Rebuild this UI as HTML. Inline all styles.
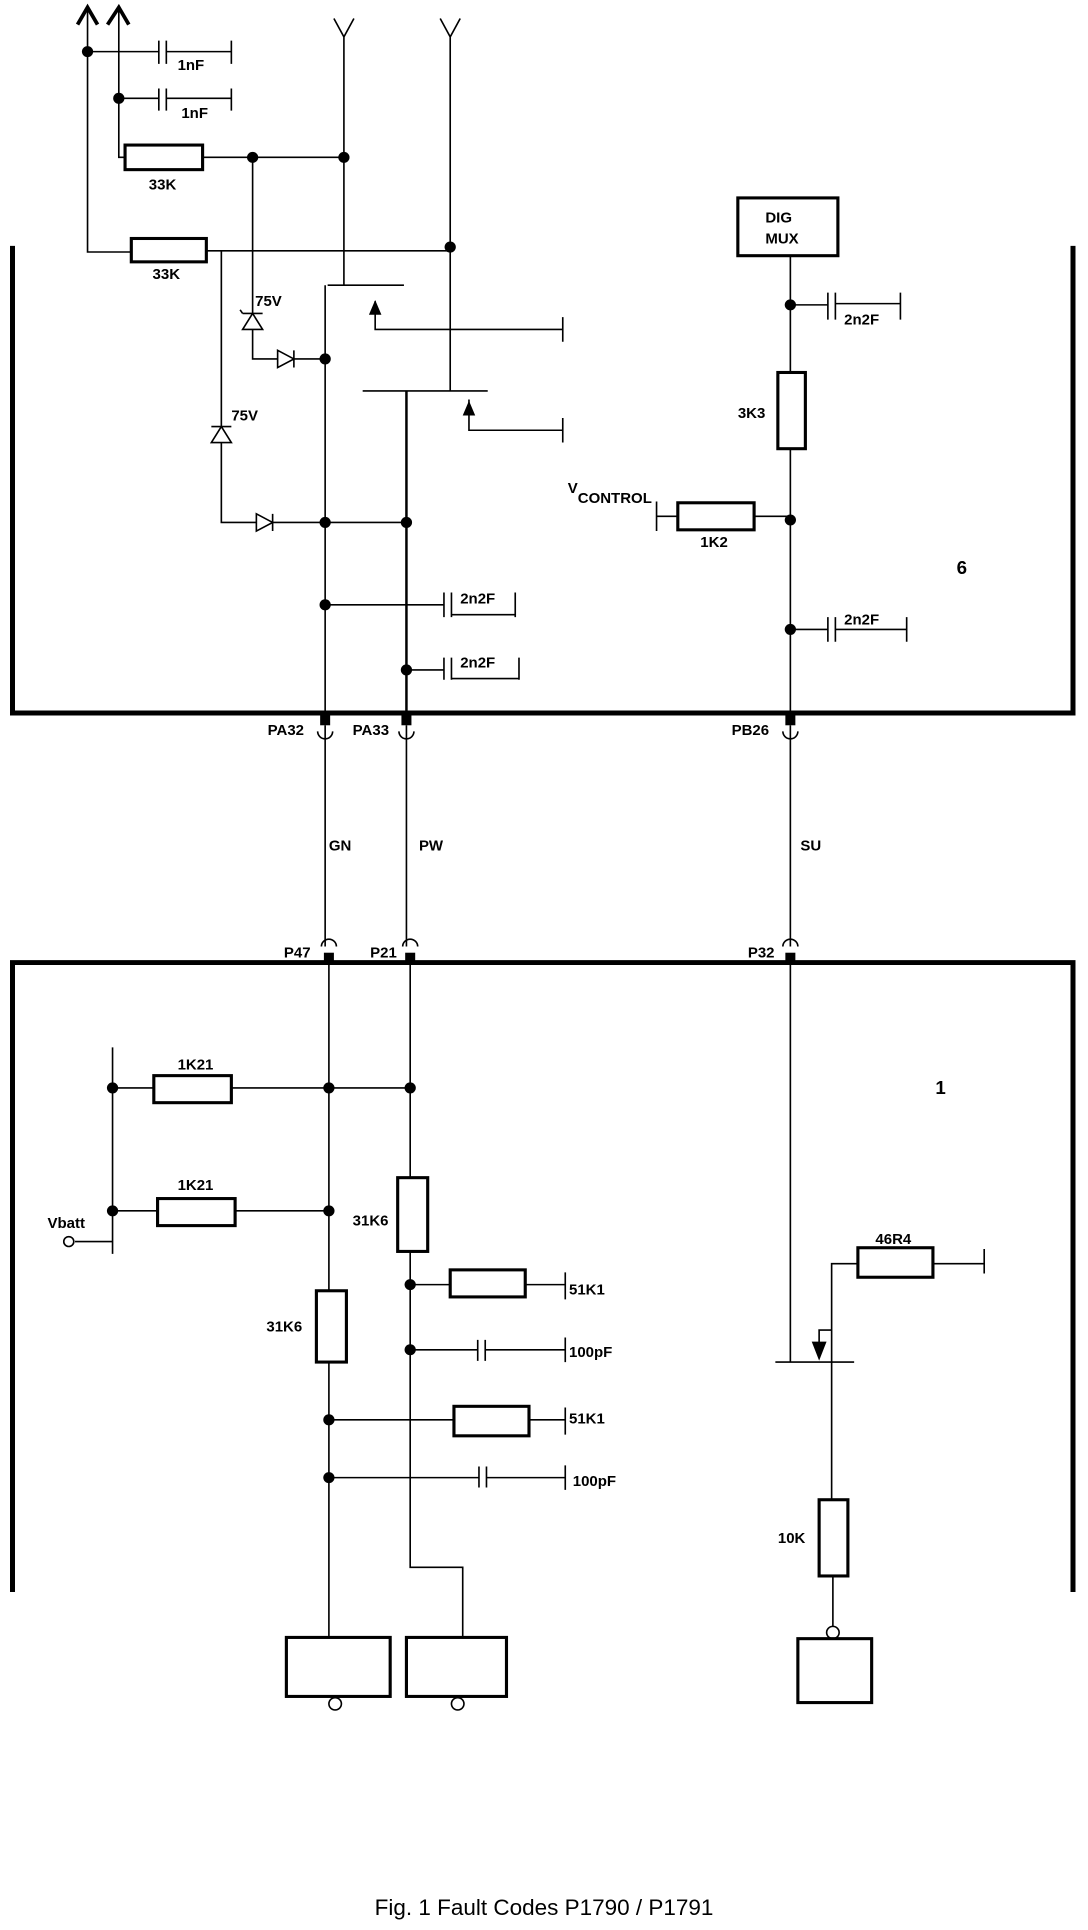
<!DOCTYPE html>
<html><head><style>html,body{margin:0;padding:0;background:#fff;width:1088px;height:1930px;overflow:hidden}svg{display:block}</style></head>
<body>
<svg width="1088" height="1930" viewBox="0 0 870 1570" preserveAspectRatio="none" xmlns="http://www.w3.org/2000/svg" font-family="Liberation Sans, sans-serif">
<g stroke="#000" fill="none" stroke-width="1.3">
<path d="M62 20 L70 6 L78 20 M86 20 L95 6 L103 20" stroke-width="3"/>
<path d="M70 8 V205 H105 M95 8 V128 H100"/>
<path d="M70 42 H127 M133 42 H185 M185 33 V52 M127 33 V52 M133 33 V52"/>
<path d="M95 80 H127 M133 80 H185 M185 72 V90 M127 72 V90 M133 72 V90"/>
<rect x="100" y="118" width="62" height="20" stroke-width="2.5"/>
<path d="M162 128 H275"/>
<rect x="105" y="194" width="60" height="19" stroke-width="2.5"/>
<path d="M165 204 H360"/>
<path d="M267 15 L275 30 L283 15 M352 15 L360 30 L368 15 M275 30 V232 M360 30 V318"/>
<path d="M262 232 H323 M260 232 V582 M300 245 V268 H450 M450 258 V278"/>
<path d="M290 318 H390 M375 325 V350 H450 M450 340 V360"/>
<path d="M325 318 V582" stroke-width="2"/>
<path d="M202 128 V255 M202 268 V292 H222 M235 292 H260"/>
<path d="M194 255 H210 M202 255 L194 268 H210 Z M194 255 L192 252"/>
<path d="M222 285 V299 L235 292 Z M235 285 V299"/>
<path d="M177 204 V347 M177 360 V425 H205 M218 425 H325"/>
<path d="M169 347 H185 M177 347 L169 360 H185 Z"/>
<path d="M205 418 V432 L218 425 Z M218 418 V432"/>
<path d="M260 492 H355 M355 482 V502 M361 482 V502 M361 500 H412 M412 482 V502"/>
<path d="M325 545 H355 M355 535 V553 M361 535 V553 M361 552 H415 M415 535 V553"/>
<rect x="590" y="161" width="80" height="47" stroke-width="2.5"/>
<path d="M632 208 V582"/>
<path d="M632 248 H662 M662 238 V260 M668 238 V260 M668 247 H720 M720 238 V260"/>
<rect x="622" y="303" width="22" height="62" stroke-width="2.5" fill="#fff"/>
<path d="M525 408 V432 M525 420 H542 M603 420 H632"/>
<rect x="542" y="409" width="61" height="22" stroke-width="2.5"/>
<path d="M632 512 H662 M662 502 V522 M668 502 V522 M668 512 H725 M725 502 V522"/>
<path d="M10 200 V580 H858 V200" stroke-width="4"/>
<path d="M260 590 V770 M325 590 V770 M632 590 V770"/>
<path d="M254 595 A6 6 0 0 0 266 595 M319 595 A6 6 0 0 0 331 595 M626 595 A6 6 0 0 0 638 595"/>
<path d="M257 770 A6 6 0 0 1 269 770 M322 770 A6 6 0 0 1 334 770 M626 770 A6 6 0 0 1 638 770"/>
<path d="M10 1295 V783 H858 V1295" stroke-width="4"/>
<path d="M263 783 V1332 M328 783 V1275 H370 V1332"/>
<path d="M90 852 V1020 M90 885 H123 M185 885 H328 M90 985 H126 M188 985 H263 M60 1010 H90"/>
<rect x="123" y="875" width="62" height="22" stroke-width="2.5"/>
<rect x="126" y="975" width="62" height="22" stroke-width="2.5"/>
<rect x="318" y="958" width="24" height="60" stroke-width="2.5" fill="#fff"/>
<path d="M328 1045 H360 M420 1045 H452 M452 1035 V1057"/>
<rect x="360" y="1033" width="60" height="22" stroke-width="2.5"/>
<path d="M328 1098 H382 M382 1090 V1107 M388 1090 V1107 M388 1098 H452 M452 1088 V1108"/>
<rect x="253" y="1050" width="24" height="58" stroke-width="2.5" fill="#fff"/>
<path d="M263 1155 H363 M423 1155 H452 M452 1145 V1167"/>
<rect x="363" y="1144" width="60" height="24" stroke-width="2.5"/>
<path d="M263 1202 H383 M383 1193 V1210 M389 1193 V1210 M389 1202 H452 M452 1192 V1212"/>
<path d="M632 783 V1108 M620 1108 H683 M665 1108 V1220 M665 1108 V1028 H686 M746 1028 H787 M787 1016 V1036 M665 1082 H655 V1100"/>
<path d="M650 1092 L655 1105 L660 1092 Z" fill="#000"/>
<rect x="686" y="1015" width="60" height="24" stroke-width="2.5"/>
<rect x="655" y="1220" width="23" height="62" stroke-width="2.5" fill="#fff"/>
<path d="M666 1282 V1323"/>
<circle cx="666" cy="1328" r="5"/>
<rect x="638" y="1333" width="59" height="52" stroke-width="2.5"/>
<rect x="229" y="1332" width="83" height="48" stroke-width="2.5"/>
<rect x="325" y="1332" width="80" height="48" stroke-width="2.5"/>
<circle cx="268" cy="1386" r="5"/>
<circle cx="366" cy="1386" r="5"/>
<circle cx="55" cy="1010" r="4"/>
</g>
<g fill="#000">
<path d="M295 256 L300 244 L305 256 Z M370 338 L375 326 L380 338 Z"/>
<rect x="256" y="580" width="8" height="10"/><rect x="321" y="580" width="8" height="10"/><rect x="628" y="580" width="8" height="10"/>
<rect x="259" y="775" width="8" height="9"/><rect x="324" y="775" width="8" height="9"/><rect x="628" y="775" width="8" height="9"/>
<g>
<circle cx="70" cy="42" r="4.5"/><circle cx="95" cy="80" r="4.5"/><circle cx="202" cy="128" r="4.5"/><circle cx="275" cy="128" r="4.5"/><circle cx="360" cy="201" r="4.5"/>
<circle cx="260" cy="292" r="4.5"/><circle cx="260" cy="425" r="4.5"/><circle cx="325" cy="425" r="4.5"/><circle cx="260" cy="492" r="4.5"/><circle cx="325" cy="545" r="4.5"/>
<circle cx="632" cy="248" r="4.5"/><circle cx="632" cy="423" r="4.5"/><circle cx="632" cy="512" r="4.5"/>
<circle cx="90" cy="885" r="4.5"/><circle cx="263" cy="885" r="4.5"/><circle cx="328" cy="885" r="4.5"/><circle cx="90" cy="985" r="4.5"/><circle cx="263" cy="985" r="4.5"/>
<circle cx="328" cy="1045" r="4.5"/><circle cx="328" cy="1098" r="4.5"/><circle cx="263" cy="1155" r="4.5"/><circle cx="263" cy="1202" r="4.5"/>
</g>
<g font-size="12" font-weight="bold">
<text x="142" y="57">1nF</text><text x="145" y="96">1nF</text>
<text x="119" y="154">33K</text><text x="122" y="227">33K</text>
<text x="204" y="249">75V</text><text x="185" y="342">75V</text>
<text x="368" y="491">2n2F</text><text x="368" y="543">2n2F</text>
<text x="612" y="181">DIG</text><text x="612" y="198">MUX</text>
<text x="675" y="264">2n2F</text><text x="590" y="340">3K3</text>
<text x="454" y="401">V</text><text x="462" y="409">CONTROL</text>
<text x="560" y="445">1K2</text><text x="765" y="467" font-size="15">6</text>
<text x="675" y="508">2n2F</text>
<text x="214" y="598">PA32</text><text x="282" y="598">PA33</text><text x="585" y="598">PB26</text>
<text x="263" y="692">GN</text><text x="335" y="692">PW</text><text x="640" y="692">SU</text>
<text x="227" y="779">P47</text><text x="296" y="779">P21</text><text x="598" y="779">P32</text>
<text x="142" y="870">1K21</text><text x="142" y="968">1K21</text>
<text x="38" y="999">Vbatt</text><text x="282" y="997">31K6</text>
<text x="455" y="1053">51K1</text><text x="455" y="1104">100pF</text>
<text x="213" y="1083">31K6</text><text x="455" y="1158">51K1</text><text x="458" y="1209">100pF</text>
<text x="748" y="890" font-size="15">1</text>
<text x="700" y="1012">46R4</text><text x="622" y="1255">10K</text>
</g>
<text x="435" y="1558" font-size="18" text-anchor="middle">Fig. 1 Fault Codes P1790 / P1791</text>
</g>
</svg>
</body></html>
